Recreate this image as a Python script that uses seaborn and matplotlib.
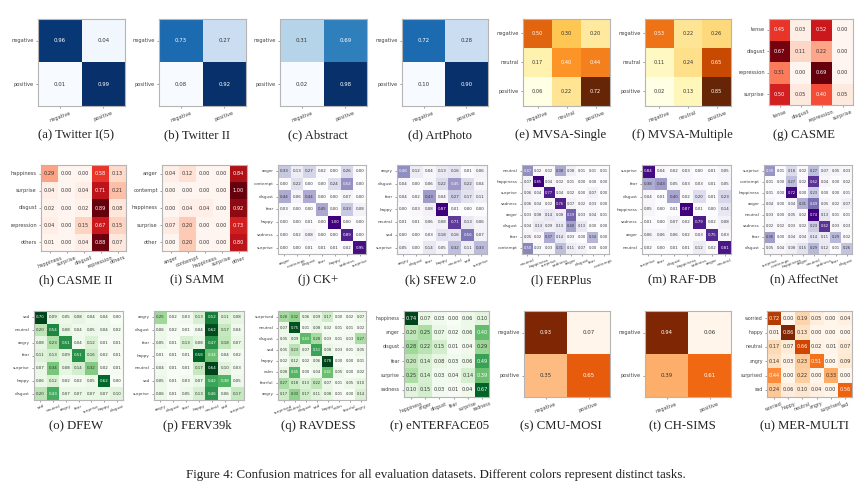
import numpy as np
import matplotlib
matplotlib.use("Agg")
import matplotlib.pyplot as plt
import seaborn as sns

# class labels
binary = ["negative", "positive"]
three = ["negative", "neutral", "positive"]
casme_labels = ["tense", "disgust", "repression", "surprise"]
casme2_labels = ["happiness", "surprise", "disgust", "repression", "others"]
samm_labels = ["anger", "contempt", "happiness", "surprise", "other"]
ck_labels = ["anger", "contempt", "disgust", "fear", "happy", "sadness", "surprise"]
sfew_labels = ["angry", "disgust", "fear", "happy", "neutral", "sad", "surprise"]
ferplus_labels = ["neutral", "happiness", "surprise", "sadness", "anger", "disgust", "fear", "contempt"]
raf_labels = ["surprise", "fear", "disgust", "happiness", "sadness", "anger", "neutral"]
affect_labels = ["surprise", "contempt", "happiness", "anger", "neutral", "sadness", "fear", "disgust"]
dfew_labels = ["sad", "neutral", "angry", "fear", "surprise", "happy", "disgust"]
ferv_labels = ["angry", "disgust", "fear", "happy", "neutral", "sad", "surprise"]
ravdess_labels = ["surprised", "neutral", "disgust", "sad", "happy", "calm", "fearful", "angry"]
enterface_labels = ["happiness", "anger", "disgust", "fear", "surprise", "sadness"]
mer_labels = ["worried", "happy", "neutral", "angry", "surprised", "sad"]

# confusion matrices
twitter1 = [[.96, .04], [.01, .99]]
twitter2 = [[.73, .27], [.08, .92]]
abstract = [[.31, .69], [.02, .98]]
artphoto = [[.72, .28], [.10, .90]]
mvsa_single = [[.50, .30, .20], [.17, .40, .44], [.06, .22, .72]]
mvsa_multiple = [[.53, .22, .26], [.11, .24, .65], [.02, .13, .85]]
casme = [[.45, .03, .52, .00], [.67, .11, .22, .00], [.31, .00, .69, .00], [.50, .05, .40, .05]]
casme2 = [[.29, .00, .00, .58, .13], [.04, .00, .04, .71, .21], [.02, .00, .02, .89, .08],
          [.04, .00, .15, .67, .15], [.01, .00, .04, .88, .07]]
samm = [[.04, .12, .00, .00, .84], [.00, .00, .00, .00, 1.00], [.00, .04, .04, .00, .92],
        [.07, .20, .00, .00, .73], [.00, .20, .00, .00, .80]]
ck = [[.33, .13, .27, .02, .00, .26, .00], [.00, .22, .00, .00, .24, .54, .00],
      [.44, .06, .44, .00, .00, .07, .00], [.03, .00, .00, .45, .00, .33, .08],
      [.00, .00, .01, .00, 1.00, .00, .00], [.00, .02, .08, .00, .00, .89, .00],
      [.00, .00, .01, .01, .01, .02, .95]]
sfew = [[.48, .12, .04, .13, .16, .01, .06], [.04, .00, .06, .22, .45, .22, .04],
        [.04, .02, .43, .04, .27, .17, .11], [.00, .03, .08, .87, .01, .00, .00],
        [.01, .01, .06, .08, .71, .13, .06], [.00, .00, .03, .18, .16, .56, .07],
        [.05, .00, .14, .05, .32, .11, .33]]
ferplus = [[.47, .02, .02, .38, .08, .01, .01, .01], [.07, .85, .04, .02, .01, .00, .00, .00],
           [.06, .04, .77, .04, .02, .00, .07, .00], [.06, .04, .02, .76, .07, .02, .03, .00],
           [.03, .08, .14, .08, .59, .03, .04, .01], [.04, .13, .09, .13, .40, .13, .00, .00],
           [.05, .02, .37, .14, .03, .00, .34, .00], [.50, .03, .03, .31, .11, .07, .00, .00]]
raf = [[.84, .04, .02, .03, .00, .01, .05], [.38, .43, .05, .03, .03, .01, .05],
       [.04, .01, .40, .02, .20, .01, .23], [.05, .00, .01, .87, .01, .00, .14],
       [.01, .00, .07, .02, .79, .02, .08], [.06, .06, .06, .02, .03, .75, .03],
       [.02, .00, .01, .01, .12, .02, .81]]
affectnet = [[.39, .01, .18, .02, .27, .07, .05, .03], [.01, .00, .27, .02, .62, .04, .00, .02],
             [.01, .00, .72, .00, .23, .00, .00, .01], [.04, .00, .04, .31, .49, .05, .02, .07],
             [.03, .00, .05, .02, .74, .13, .01, .01], [.02, .02, .03, .02, .23, .62, .03, .03],
             [.36, .00, .04, .04, .14, .11, .29, .02], [.05, .04, .08, .15, .29, .12, .01, .26]]
dfew = [[.70, .09, .05, .08, .04, .04, .00], [.20, .54, .08, .04, .05, .04, .02],
        [.08, .23, .51, .04, .12, .01, .01], [.11, .13, .09, .51, .16, .02, .01],
        [.07, .34, .08, .14, .32, .02, .01], [.06, .12, .02, .02, .05, .62, .00],
        [.20, .43, .07, .07, .07, .07, .10]]
ferv = [[.25, .02, .03, .13, .52, .11, .08], [.06, .02, .01, .04, .62, .17, .04],
        [.05, .01, .13, .08, .47, .18, .07], [.01, .01, .01, .58, .34, .04, .02],
        [.04, .01, .01, .17, .64, .10, .03], [.05, .01, .03, .07, .42, .38, .05],
        [.06, .01, .05, .13, .46, .06, .17]]
ravdess = [[.28, .32, .06, .09, .17, .00, .02, .07], [.07, .75, .01, .08, .02, .01, .01, .02],
           [.05, .09, .43, .28, .03, .01, .03, .27], [.05, .23, .07, .51, .08, .03, .01, .05],
           [.02, .12, .02, .06, .78, .00, .00, .01], [.08, .45, .00, .04, .41, .05, .00, .02],
           [.27, .18, .13, .22, .07, .01, .05, .10], [.17, .33, .17, .11, .08, .01, .00, .14]]
enterface = [[.74, .07, .03, .00, .06, .10], [.20, .25, .07, .02, .06, .40],
             [.28, .22, .15, .01, .04, .29], [.20, .14, .08, .03, .06, .49],
             [.25, .14, .03, .04, .14, .39], [.10, .15, .03, .01, .04, .67]]
cmu_mosi = [[.93, .07], [.35, .65]]
ch_sims = [[.94, .06], [.39, .61]]
mer_multi = [[.72, .00, .19, .05, .00, .04], [.01, .86, .13, .00, .00, .00],
             [.17, .07, .66, .02, .01, .07], [.14, .03, .23, .51, .00, .09],
             [.44, .00, .22, .00, .33, .00], [.24, .06, .10, .04, .00, .56]]

panels = [
    ("(a) Twitter I(5)", twitter1, binary, "Blues", 3.9),
    ("(b) Twitter II", twitter2, binary, "Blues", 3.9),
    ("(c) Abstract", abstract, binary, "Blues", 3.9),
    ("(d) ArtPhoto", artphoto, binary, "Blues", 3.9),
    ("(e) MVSA-Single", mvsa_single, three, "YlOrBr", 3.6),
    ("(f) MVSA-Multiple", mvsa_multiple, three, "YlOrBr", 3.6),
    ("(g) CASME", casme, casme_labels, "Reds", 3.6),
    ("(h) CASME II", casme2, casme2_labels, "Reds", 3.6),
    ("(i) SAMM", samm, samm_labels, "Reds", 3.6),
    ("(j) CK+", ck, ck_labels, "Purples", 2.9),
    ("(k) SFEW 2.0", sfew, sfew_labels, "Purples", 2.9),
    ("(l) FERPlus", ferplus, ferplus_labels, "Purples", 2.6),
    ("(m) RAF-DB", raf, raf_labels, "Purples", 2.9),
    ("(n) AffectNet", affectnet, affect_labels, "Purples", 2.6),
    ("(o) DFEW", dfew, dfew_labels, "Greens", 2.9),
    ("(p) FERV39k", ferv, ferv_labels, "Greens", 2.9),
    ("(q) RAVDESS", ravdess, ravdess_labels, "Greens", 2.6),
    ("(r) eNTERFACE05", enterface, enterface_labels, "Greens", 3.6),
    ("(s) CMU-MOSI", cmu_mosi, binary, "Oranges", 3.9),
    ("(t) CH-SIMS", ch_sims, binary, "Oranges", 3.9),
    ("(u) MER-MULTI", mer_multi, mer_labels, "Oranges", 3.6),
]

# axes boxes in pixels: left, right, top, bottom
boxes = [
    (38, 125, 19, 106), (159, 246, 19, 106), (280, 367, 19, 106), (402, 488, 19, 106),
    (523, 610, 19, 106), (645, 731, 19, 106), (769, 853, 19, 105),
    (41, 126, 165, 251), (162, 247, 165, 251), (278, 366, 165, 254), (397, 487, 165, 254),
    (522, 609, 165, 254), (642, 731, 165, 254), (764, 852, 165, 254),
    (34, 123, 311, 400), (154, 244, 311, 400), (278, 366, 311, 400), (404, 489, 311, 397),
    (524, 610, 311, 397), (645, 731, 311, 397), (767, 852, 311, 397),
]
caption_x = [76, 197, 318, 440, 561, 682, 804]
caption_y = [135, 280, 426]

W, H = 865, 494
sns.set_theme(style="white")
plt.rcParams["font.family"] = "DejaVu Sans"

fig = plt.figure(figsize=(W / 100, H / 100), dpi=100)

for i, (title, matrix, labels, cmap, fs) in enumerate(panels):
    left, right, top, bottom = boxes[i]
    ax = fig.add_axes([left / W, 1 - bottom / H, (right - left) / W, (bottom - top) / H])
    values = np.array(matrix)
    sns.heatmap(values, annot=True, fmt=".2f", cmap=cmap, cbar=False, ax=ax,
                xticklabels=labels, yticklabels=labels, annot_kws={"size": fs})
    # text goes white above the midpoint like the original
    mid = (values.max() + values.min()) / 2
    for txt, v in zip(ax.texts, values.ravel()):
        txt.set_color("white" if v > mid else "#333333")
    for spine in ax.spines.values():
        spine.set_visible(True)
        spine.set_color("#b5b5b5")
        spine.set_linewidth(0.8)
    n = len(labels)
    tick_fs = 3.7 if n < 6 else (3.4 if n == 6 else 3.0)
    ax.tick_params(axis="both", length=1.5, width=0.4, pad=1.5, color="#555555",
                   bottom=True, left=True, labelcolor="#444444")
    ax.set_xticklabels(labels, rotation=20, ha="center", fontsize=tick_fs)
    ax.set_yticklabels(labels, rotation=0, fontsize=tick_fs)

    row = 0 if i < 7 else (1 if i < 14 else 2)
    fig.text(caption_x[i % 7] / W, 1 - caption_y[row] / H, title, ha="center", va="center",
             family="Liberation Serif", fontsize=9.2, color="#222222")

fig.text(436 / W, 1 - 475 / H,
         "Figure 4: Confusion matrices for all evaluation datasets. Different colors represent distinct tasks.",
         ha="center", va="center", family="Liberation Serif", fontsize=9.4, color="#222222")

fig.savefig("out.png", dpi=100)
